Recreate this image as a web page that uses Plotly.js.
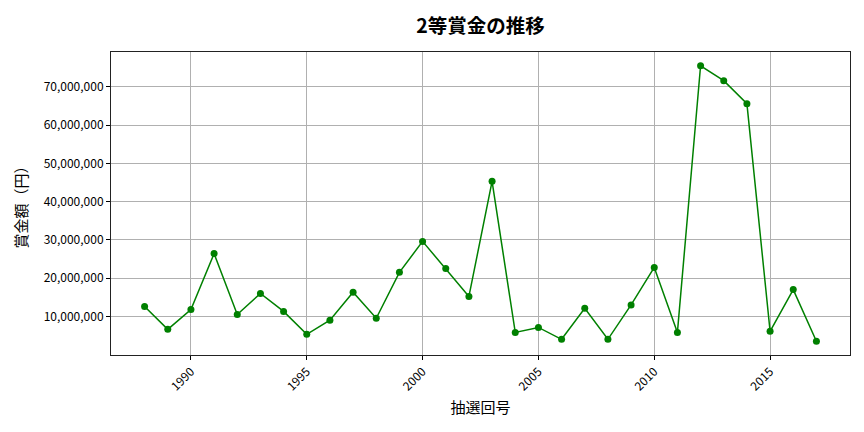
<!DOCTYPE html>
<html>
<head>
<meta charset="utf-8">
<script src="https://cdn.plot.ly/plotly-3.0.1.min.js"></script>
<style>
  html, body { margin: 0; padding: 0; background: #fff; }
  #chart { width: 864px; height: 432px; }
</style>
</head>
<body>
<div id="chart"></div>
<script>
// 抽選回 (年) と 2等賞金
const years = [1988, 1989, 1990, 1991, 1992, 1993, 1994, 1995, 1996, 1997,
               1998, 1999, 2000, 2001, 2002, 2003, 2004, 2005, 2006, 2007,
               2008, 2009, 2010, 2011, 2012, 2013, 2014, 2015, 2016, 2017];
const prize = [12600000, 6600000, 11800000, 26400000, 10500000, 16000000, 11300000, 5300000, 9000000, 16300000,
               9500000, 21500000, 29600000, 22500000, 15200000, 45300000, 5800000, 7100000, 4000000, 12100000,
               4000000, 13000000, 22800000, 5800000, 75500000, 71600000, 65600000, 6100000, 17000000, 3500000];
const xTicks = [1990, 1995, 2000, 2005, 2010, 2015];
const yTicks = [10000000, 20000000, 30000000, 40000000, 50000000, 60000000, 70000000];

const FONT = '"Noto Sans CJK JP", "Noto Sans", sans-serif';

// matplotlib風の5%余白
const xPad = (years[years.length - 1] - years[0]) * 0.05;
const yMin = Math.min(...prize), yMax = Math.max(...prize);
const yPad = (yMax - yMin) * 0.05;

const trace = {
  x: years,
  y: prize,
  type: 'scatter',
  mode: 'lines+markers',
  line: { color: 'green', width: 1.5 },
  marker: { color: 'green', size: 7 },
  hoverinfo: 'x+y'
};

const layout = {
  width: 864,
  height: 432,
  margin: { l: 111, r: 14, t: 52, b: 77 },
  paper_bgcolor: '#fff',
  plot_bgcolor: '#fff',
  font: { family: FONT, color: '#000', size: 12 },
  showlegend: false,
  title: {
    text: '<b>2等賞金の推移</b>',
    font: { family: FONT, size: 19.5, color: '#000' },
    xref: 'paper', x: 0.5, xanchor: 'center',
    yref: 'container', y: 0.94, yanchor: 'middle'
  },
  xaxis: {
    range: [years[0] - xPad, years[years.length - 1] + xPad],
    tickvals: xTicks,
    ticktext: xTicks.map(String),
    tickangle: -45,
    ticks: 'outside', ticklen: 4, tickcolor: '#000',
    showgrid: true, gridcolor: '#b0b0b0', gridwidth: 1,
    zeroline: false,
    showline: true, linecolor: '#222', linewidth: 1, mirror: true,
    tickfont: { family: FONT, size: 12, color: '#000' },
    title: { text: '抽選回号', font: { family: FONT, size: 15, color: '#000' }, standoff: 9 }
  },
  yaxis: {
    range: [yMin - yPad, yMax + yPad],
    tickvals: yTicks,
    ticktext: yTicks.map(v => v.toLocaleString('en-US')),
    ticks: 'outside', ticklen: 4, tickcolor: '#000',
    showgrid: true, gridcolor: '#b0b0b0', gridwidth: 1,
    zeroline: false,
    showline: true, linecolor: '#222', linewidth: 1, mirror: true,
    tickfont: { family: FONT, size: 12, color: '#000' },
    title: { text: '賞金額（円）', font: { family: FONT, size: 15, color: '#000' }, standoff: 12 }
  }
};

Plotly.newPlot('chart', [trace], layout, { displayModeBar: false, staticPlot: true });
</script>
</body>
</html>
